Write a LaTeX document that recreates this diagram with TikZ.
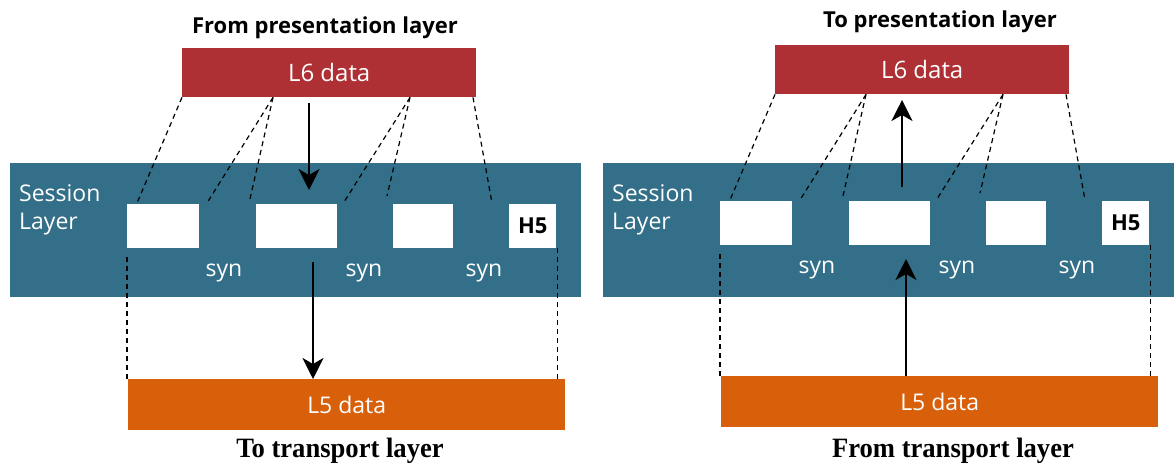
\documentclass[tikz,border=0pt]{standalone}
\usepackage{fontspec}
\setmainfont{Open Sans}
\newfontfamily\narrowfont[FakeStretch=0.95]{Liberation Serif}
\usetikzlibrary{arrows.meta, positioning}
\definecolor{sixred}{HTML}{AE3035}
\definecolor{sessionteal}{HTML}{336F88}
\definecolor{fiveorange}{HTML}{D8600A}
\tikzset{
	band/.style={fill=sessionteal, minimum width=571pt, minimum height=134pt, inner sep=0pt},
	sixbox/.style={fill=sixred, text=white, minimum width=294pt, minimum height=49pt, inner sep=0pt, font=\fontsize{24}{28}\selectfont},
	fivebox/.style={fill=fiveorange, text=white, minimum width=437pt, minimum height=51pt, inner sep=0pt, font=\fontsize{23}{27}\selectfont},
	slot/.style={fill=white, minimum height=44pt, inner sep=0pt},
	whitetext/.style={text=white, inner sep=0pt, font=\fontsize{23}{28}\selectfont},
	heading/.style={inner sep=0pt, font=\bfseries\fontsize{22}{26}\selectfont},
	footing/.style={inner sep=0pt, font=\narrowfont\bfseries\fontsize{28}{32}\selectfont},
	split/.style={dashed, dash pattern=on 5pt off 4pt, line width=1.2pt},
	flow/.style={line width=2.4pt, -{Stealth[length=21pt, width=21pt, inset=6pt]}}
}
\newcommand{\sessionPanel}[4]{
	\node[band, anchor=north west] (#3band) at (#1+10, 163) {};
	\node[whitetext, align=left, anchor=west] (#3name) at (#1+19, 210) {Session\\Layer};
	\node[sixbox, anchor=north west] (#3l6) at (#1+182, #2+48) {L6 data};
	\node[slot, minimum width=72pt, anchor=north west] (#3b1) at (#1+127, #2+204) {};
	\node[slot, minimum width=81pt, anchor=north west] (#3b2) at (#1+256, #2+204) {};
	\node[slot, minimum width=60pt, anchor=north west] (#3b3) at (#1+393, #2+204) {};
	\node[slot, minimum width=47pt, anchor=north west, font=\bfseries\fontsize{22}{26}\selectfont] (#3h5) at (#1+509, #2+204) {H5};
	\node[whitetext] (#3s1) at (#1+224, #2+273) {syn};
	\node[whitetext] (#3s2) at (#1+364, #2+273) {syn};
	\node[whitetext] (#3s3) at (#1+484, #2+273) {syn};
	\node[fivebox, anchor=north west] (#3l5) at (#1+128, #2+379) {L5 data};
	% ends of the dashed guides
	\coordinate (#3d1) at (#1+137, #2+203);
	\coordinate (#3d2) at (#1+207, #2+203);
	\coordinate (#3d3) at (#1+250, #2+199);
	\coordinate (#3d4) at (#1+344, #2+202);
	\coordinate (#3d5) at (#1+387, #2+196);
	\coordinate (#3d6) at (#1+492, #2+203);
	\draw[split] (#3l6.south west) -- (#3d1);
	\draw[split] ([xshift=91pt]#3l6.south west) -- (#3d2);
	\draw[split] ([xshift=91pt]#3l6.south west) -- (#3d3);
	\draw[split] ([xshift=228pt]#3l6.south west) -- (#3d4);
	\draw[split] ([xshift=228pt]#3l6.south west) -- (#3d5);
	\draw[split] ([xshift=291pt]#3l6.south west) -- (#3d6);
	\draw[split] ([yshift=-9pt]#3b1.south west) -- (#3b1.south west |- #3l5.north);
	\draw[split] ([xshift=1pt]#3h5.south east) -- ([xshift=1pt]#3h5.south east |- #3l5.north);
	% data arrows
	\coordinate (#3a1) at (#1+309, #2+103);
	\coordinate (#3a2) at (#1+309, #2+190);
	\coordinate (#3a3) at (#1+313, #2+262);
	\ifnum#4=1
		\draw[flow] (#3a1) -- (#3a2);
		\draw[flow] (#3a3) -- (#3a3 |- #3l5.north);
	\else
		\draw[flow] (#3a2) -- (#3a1);
		\draw[flow] (#3a3 |- #3l5.north) -- (#3a3);
	\fi
}
\begin{document}
\begin{tikzpicture}[x=1pt, y=-1pt]
	\useasboundingbox (0,0) rectangle (1174,466);
	% sending side
	\sessionPanel{0}{0}{send}{1}
	\node[heading] (sendtop) at (325, 28) {From presentation layer};
	\node[footing] (sendbot) at (340, 451) {To transport layer};
	% receiving side
	\sessionPanel{593}{-3}{recv}{0}
	\node[heading] (recvtop) at (940, 22) {To presentation layer};
	\node[footing] (recvbot) at (953, 451) {From transport layer};
\end{tikzpicture}
\end{document}
